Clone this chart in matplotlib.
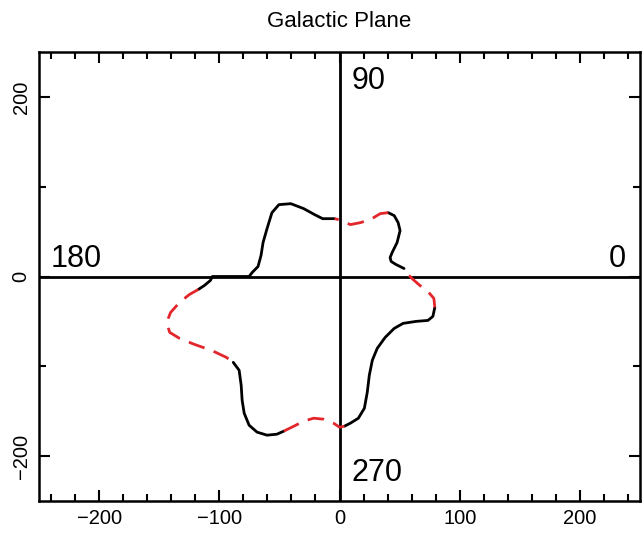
import numpy as np
import matplotlib
matplotlib.use("Agg")
from matplotlib import pyplot as plt
from matplotlib.ticker import MultipleLocator

plt.rcParams['font.family'] = ['Liberation Sans', 'DejaVu Sans']

# curve traced counter-clockwise from l=0, split where the style changes
# (solid black = measured, dashed red = gaps)
seg1_x = [79.3, 78.5, 73.6, 66.9, 61.2, 57.0, 53.7]
seg1_y = [-34.4, -24.4, -16.7, -10.0, -3.3, 2.2, 8.9]

seg2_x = [53.7, 47.1, 43.0, 42.1, 43.8, 47.9, 50.4, 48.8, 45.5, 40.5]
seg2_y = [8.9, 13.3, 16.7, 21.0, 26.7, 37.8, 51.1, 60.0, 67.8, 71.1]

seg3_x = [40.5, 33.9, 25.6, 17.4, 9.1, 3.3, -0.8, -4.1]
seg3_y = [71.1, 70.0, 63.3, 60.0, 57.8, 61.1, 63.3, 64.4]

seg4_x = [-4.1, -9.1, -14.0, -20.7, -29.8, -40.5, -50.4, -56.2, -60.3, -63.6,
          -65.3, -67.8, -72.7, -75.2, -105.8, -107.4, -112.4, -117.4]
seg4_y = [64.4, 64.4, 64.4, 68.9, 75.6, 81.1, 80.0, 71.1, 53.3, 37.8,
          23.3, 11.1, 4.4, 0.0, 0.0, -4.4, -10.0, -14.4]

seg5_x = [-117.4, -124.8, -133.1, -140.5, -143.8, -141.3, -133.1, -120.7, -106.6, -94.2, -88.4]
seg5_y = [-14.4, -20.0, -28.9, -40.0, -51.1, -62.2, -68.9, -75.6, -82.2, -90.0, -95.6]

seg6_x = [-88.4, -83.5, -81.8, -81.0, -79.3, -75.2, -68.6, -60.3, -52.1, -46.3]
seg6_y = [-95.6, -104.4, -121.1, -137.8, -152.2, -165.6, -173.3, -176.7, -175.6, -172.2]

seg7_x = [-46.3, -38.0, -29.8, -21.5, -13.2, -5.0, 0.0, 4.1]
seg7_y = [-172.2, -166.7, -161.1, -157.8, -158.9, -163.3, -167.8, -166.7]

seg8_x = [4.1, 9.1, 15.7, 20.7, 23.1, 24.8, 27.3, 31.4, 38.0, 45.5, 52.9, 63.6, 73.6, 77.7, 79.3]
seg8_y = [-166.7, -163.3, -157.8, -146.7, -128.9, -110.0, -93.3, -80.0, -67.8, -57.8,
          -52.2, -50.0, -48.9, -44.4, -34.4]

solid = [(seg2_x, seg2_y), (seg4_x, seg4_y), (seg6_x, seg6_y), (seg8_x, seg8_y)]
dashed = [(seg1_x, seg1_y), (seg3_x, seg3_y), (seg5_x, seg5_y), (seg7_x, seg7_y)]

longitudes = ['0', '90', '180', '270']

fig = plt.figure(figsize=(6.42, 5.33), dpi=100)
ax = fig.add_axes([39/642, 1 - 501/533, 601/642, 449/533])

ax.axhline(0, color='black', lw=2)
ax.axvline(0, color='black', lw=2)

for x, y in solid:
    ax.plot(x, y, color='black', lw=2, solid_capstyle='round', solid_joinstyle='round')
for x, y in dashed:
    ax.plot(x, y, color='#e3262b', lw=2, dashes=(6, 3.5))

# longitude labels at the ends of the axes
ax.text(238, 3, longitudes[0], fontsize=22, ha='right', va='bottom')
ax.text(10, 201, longitudes[1], fontsize=22, ha='left', va='bottom')
ax.text(-240, 3, longitudes[2], fontsize=22, ha='left', va='bottom')
ax.text(10, -235, longitudes[3], fontsize=22, ha='left', va='bottom')

ax.set_xlim(-250, 250)
ax.set_ylim(-250, 250)
ax.xaxis.set_major_locator(MultipleLocator(100))
ax.xaxis.set_minor_locator(MultipleLocator(20))
ax.yaxis.set_major_locator(MultipleLocator(200))
ax.yaxis.set_minor_locator(MultipleLocator(100))
ax.tick_params(which='both', direction='in', top=True, right=True, width=1.5,
               labelsize=14.5, pad=6)
ax.tick_params(which='major', length=8)
ax.tick_params(which='minor', length=5)
for lbl in ax.get_yticklabels():
    lbl.set_rotation(90)
    lbl.set_va('center')
for s in ax.spines.values():
    s.set_linewidth(1.8)

ax.set_title('Galactic Plane', fontsize=16, pad=18)

fig.savefig('out.png', dpi=100)
